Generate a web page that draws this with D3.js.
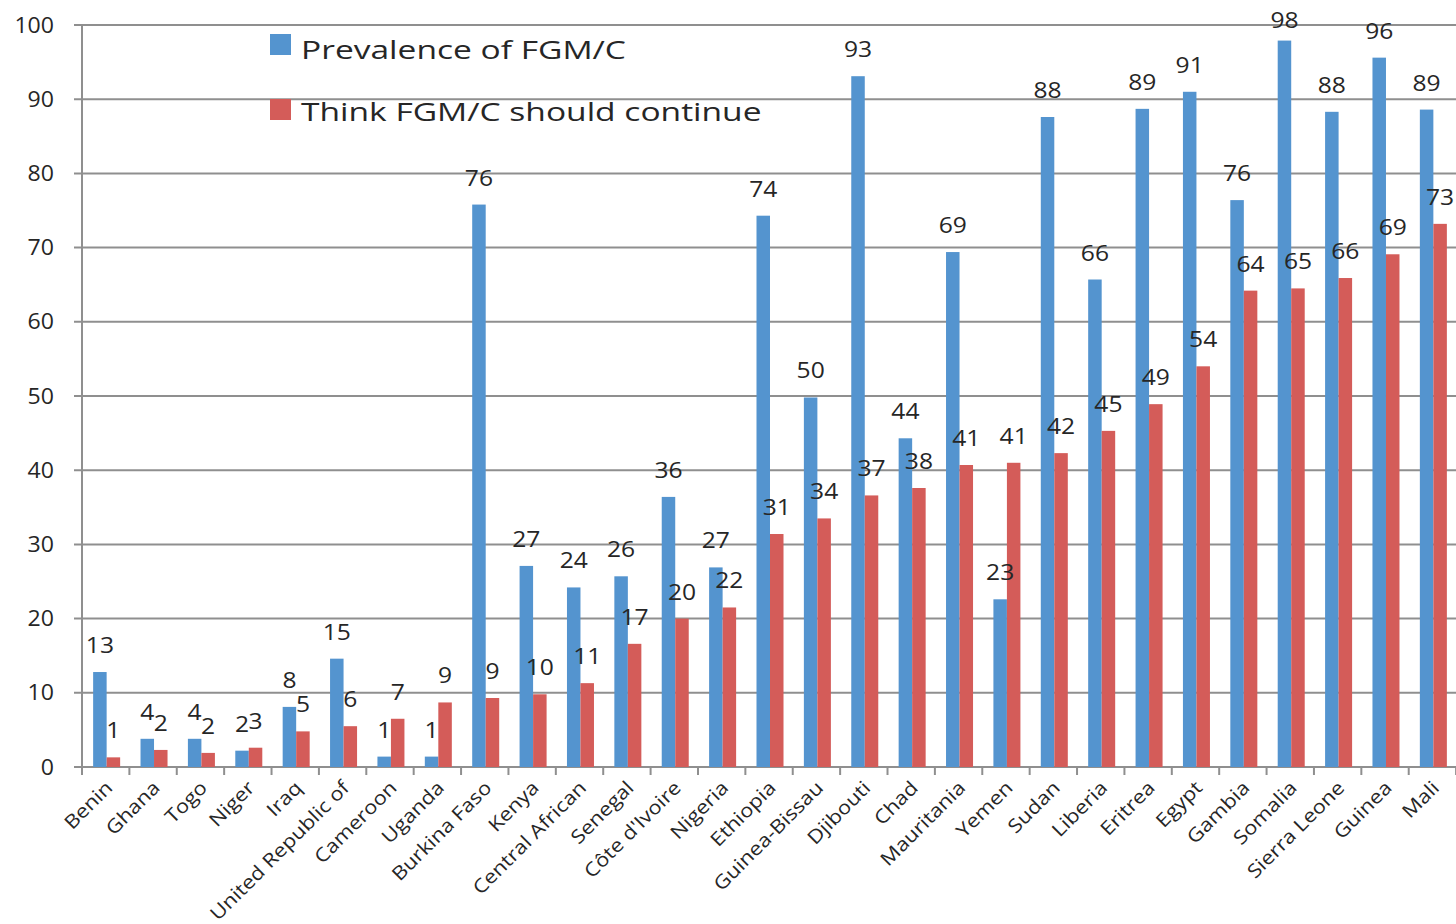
<!DOCTYPE html>
<html>
<head>
<meta charset="utf-8">
<script src="https://cdn.jsdelivr.net/npm/d3@7"></script>
<style>
  html, body { margin: 0; padding: 0; background: #fff; overflow: hidden; }
  svg { display: block; font-family: "Open Sans", "Noto Sans", sans-serif; }
</style>
</head>
<body>
<svg id="chart" width="1456" height="924"></svg>
<script>
const countries = ["Benin","Ghana","Togo","Niger","Iraq","United Republic of","Cameroon","Uganda","Burkina Faso","Kenya","Central African","Senegal","Côte d'Ivoire","Nigeria","Ethiopia","Guinea-Bissau","Djibouti","Chad","Mauritania","Yemen","Sudan","Liberia","Eritrea","Egypt","Gambia","Somalia","Sierra Leone","Guinea","Mali"];
const prevalence = [12.8,3.8,3.8,2.2,8.1,14.6,1.4,1.4,75.8,27.1,24.2,25.7,36.4,26.9,74.3,49.8,93.1,44.3,69.4,22.6,87.6,65.7,88.7,91.0,76.4,97.9,88.3,95.6,88.6];
const shouldContinue = [1.3,2.3,1.9,2.6,4.8,5.5,6.5,8.7,9.3,9.8,11.3,16.6,20.0,21.5,31.4,33.5,36.6,37.6,40.7,41.0,42.3,45.3,48.9,54.0,64.2,64.5,65.9,69.1,73.2];
const seriesNames = ["Prevalence of FGM/C","Think FGM/C should continue"];
const seriesColors = ["#5494cf","#d45c59"];
const yTicks = [0,10,20,30,40,50,60,70,80,90,100];

(function () {
const svg = d3.select("#chart");
const mLeft = 82, mRight = 1458, mTop = 25, mBottom = 767;
const textColor = "#262626", gridColor = "#8f8f8f";

const x = d3.scaleBand().domain(countries).range([mLeft, mRight]).paddingInner(0.43).paddingOuter(0.235);
const x1 = d3.scaleBand().domain([0,1]).range([0, x.bandwidth()]);
const y = d3.scaleLinear().domain([0,100]).range([mBottom, mTop]);

// gridlines
svg.append("g").selectAll("line").data(yTicks).join("line")
  .attr("x1", mLeft - 8).attr("x2", 1456)
  .attr("y1", d => y(d)).attr("y2", d => y(d))
  .attr("stroke", gridColor).attr("stroke-width", 2);

// y axis line
svg.append("line").attr("x1", mLeft).attr("x2", mLeft).attr("y1", mTop).attr("y2", mBottom + 8)
  .attr("stroke", gridColor).attr("stroke-width", 2);

// y labels
svg.append("g").selectAll("text").data(yTicks).join("text")
  .attr("transform", d => `translate(${mLeft - 28},${y(d)}) scale(1.1,1)`)
  .attr("dy", "0.36em")
  .attr("text-anchor", "end").attr("font-size", 21).attr("fill", textColor)
  .text(d => d);

// category ticks
const step = x.step();
const boundaries = d3.range(countries.length + 1).map(i => mLeft + i * step);
svg.append("g").selectAll("line").data(boundaries).join("line")
  .attr("x1", d => d).attr("x2", d => d).attr("y1", mBottom).attr("y2", mBottom + 8)
  .attr("stroke", gridColor).attr("stroke-width", 2);

const series = [prevalence, shouldContinue];
// bars
series.forEach((vals, si) => {
  svg.append("g").selectAll("rect").data(vals).join("rect")
    .attr("x", (d, i) => x(countries[i]) + x1(si))
    .attr("width", x1.bandwidth())
    .attr("y", d => y(d))
    .attr("height", d => y(0) - y(d))
    .attr("fill", seriesColors[si]);
});
// data labels (drawn above all bars)
series.forEach((vals, si) => {
  svg.append("g").selectAll("text").data(vals).join("text")
    .attr("transform", (d, i) => `translate(${x(countries[i]) + x1(si) + x1.bandwidth() / 2},${Math.max(y(d) - 19, 28)}) scale(1.12,1)`)
    .attr("text-anchor", "middle").attr("font-size", 22).attr("fill", textColor)
    .text(d => Math.round(d));
});

// x labels
svg.append("g").selectAll("text").data(countries).join("text")
  .attr("transform", d => `translate(${x(d) + x.bandwidth()/2 + 7},${mBottom + 22}) rotate(-45) scale(1.15,1)`)
  .attr("text-anchor", "end").attr("font-size", 19).attr("fill", textColor)
  .text(d => d);

// legend
const leg = svg.append("g");
seriesNames.forEach((n, i) => {
  leg.append("rect").attr("x", 270).attr("y", 34 + i * 65).attr("width", 21).attr("height", 21).attr("fill", seriesColors[i]);
  leg.append("text").attr("transform", `translate(301,${59 + i * 62}) scale(1.29,1)`)
    .attr("font-size", 26).attr("fill", textColor).text(n);
});
})();
</script>
</body>
</html>
